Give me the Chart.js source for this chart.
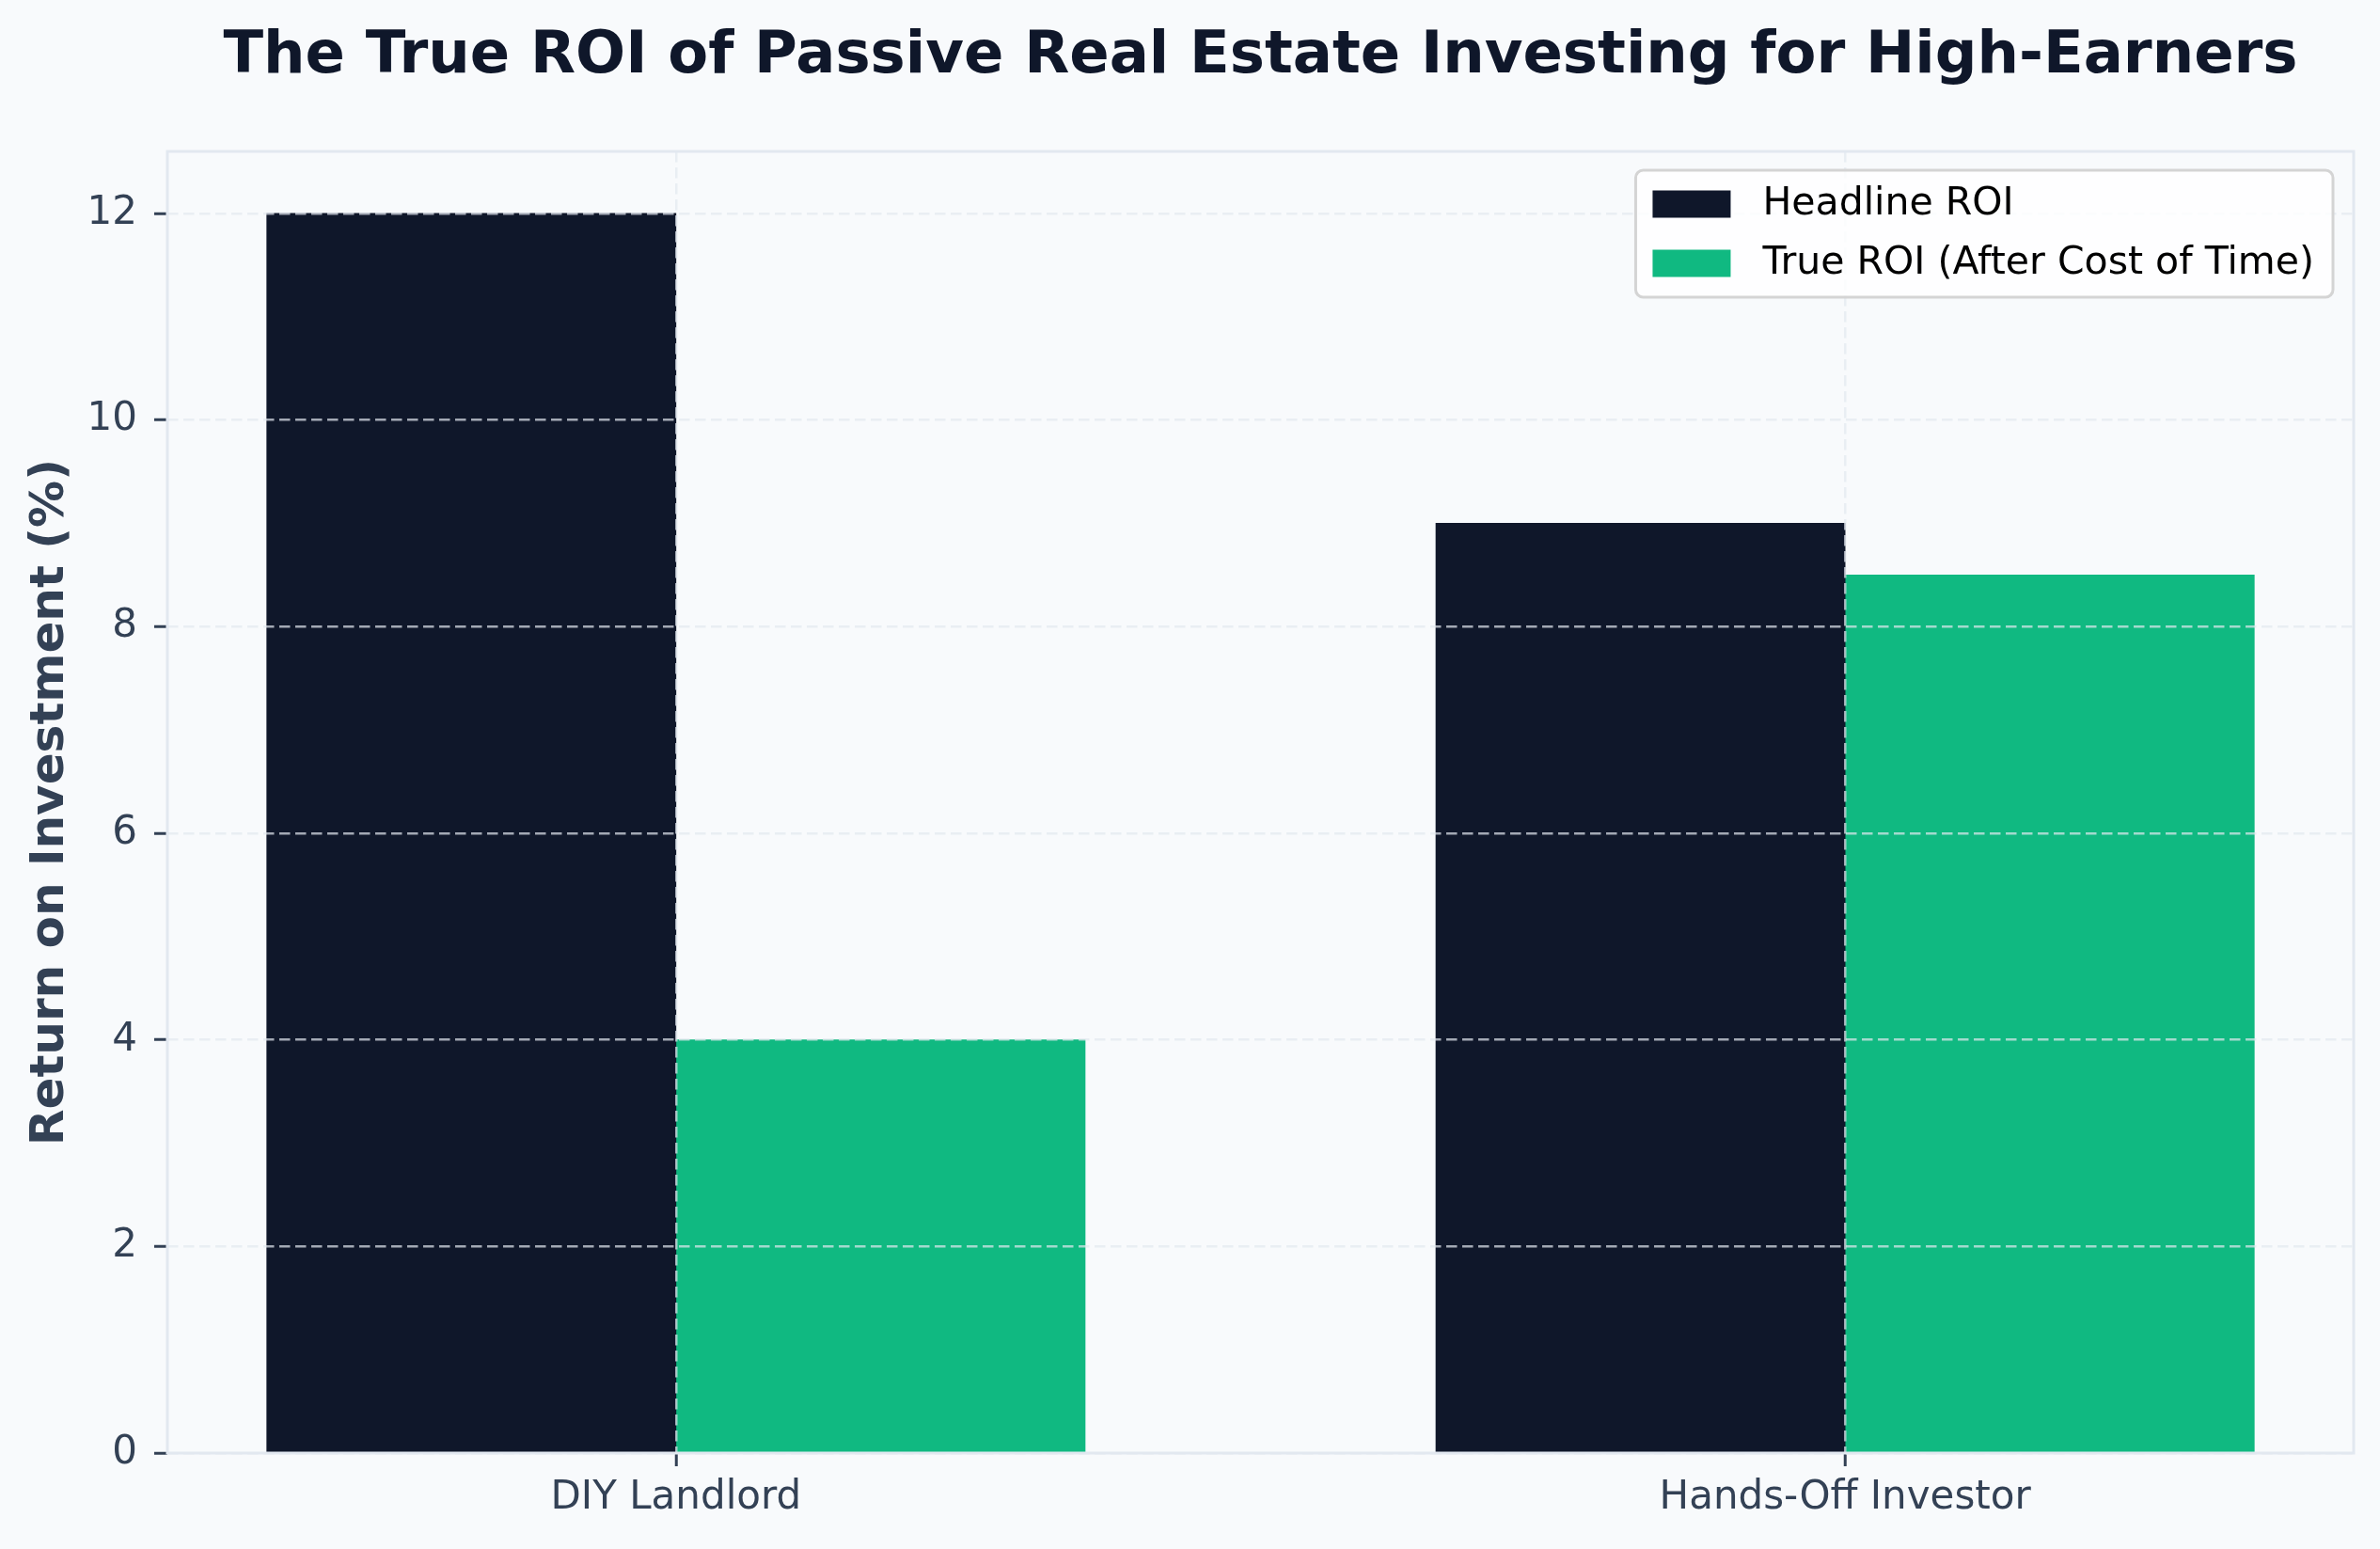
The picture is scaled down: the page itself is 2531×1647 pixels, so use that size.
<!DOCTYPE html>
<html><head><meta charset="utf-8">
<script src="https://cdn.jsdelivr.net/npm/chart.js@4.4.1/dist/chart.umd.min.js"></script>
<style>html,body{margin:0;padding:0;background:#f8fafc;} canvas{display:block;}</style>
</head><body>
<canvas id="c" width="2531" height="1647"></canvas>
<script>
// ---- data ----
const categories = ['DIY Landlord', 'Hands-Off Investor'];
const seriesNames = ['Headline ROI', 'True ROI (After Cost of Time)'];
const headlineROI = [12, 9];
const trueROI = [4, 8.5];
const yTickValues = [0, 2, 4, 6, 8, 10, 12];
const titleText = 'The True ROI of Passive Real Estate Investing for High-Earners';
const yAxisTitle = 'Return on Investment (%)';

// ---- styles ----
const DARK = '#0f172a', GREEN = '#10b981', BG = '#f8fafc', SPINE = '#e2e8f0', TEXT = '#334155';
const GRID = 'rgba(226,232,240,0.7)';
const BAR_W = 0.35;
const FONT = 'DejaVu Sans';

const toPoints = (vals, off) => vals.map((v, i) => ({x: i + off, y: v}));

const bgPlugin = {
  id: 'bg',
  beforeDraw(chart) {
    const ctx = chart.ctx;
    ctx.save(); ctx.fillStyle = BG; ctx.fillRect(0, 0, chart.width, chart.height); ctx.restore();
  }
};

const framePlugin = {
  id: 'frame',
  afterDraw(chart) {
    const {ctx, chartArea: a} = chart;
    ctx.save();
    ctx.strokeStyle = SPINE; ctx.lineWidth = 3;
    ctx.strokeRect(a.left, a.top, a.right - a.left, a.bottom - a.top);
    // legend
    const ds = chart.data.datasets;
    ctx.font = '41px "' + FONT + '"';
    let maxW = 0;
    ds.forEach(d => { maxW = Math.max(maxW, ctx.measureText(d.label).width); });
    const padL = 18, swW = 83, swH = 29, gap = 34, padR = 20, rowH = 63, padT = 34;
    const w = padL + swW + gap + maxW + padR;
    const h = padT * 2 + rowH * (ds.length - 1) + 4;
    const right = a.right - 22, top = a.top + 20, left = right - w;
    ctx.beginPath();
    ctx.roundRect(left, top, w, h, 8);
    ctx.fillStyle = 'rgba(255,255,255,0.8)'; ctx.fill();
    ctx.strokeStyle = '#d4d4d4'; ctx.lineWidth = 3; ctx.stroke();
    ds.forEach((d, i) => {
      const cy = top + padT + 2 + i * rowH;
      ctx.fillStyle = d.backgroundColor;
      ctx.fillRect(left + padL, cy - swH / 2, swW, swH);
      ctx.fillStyle = '#000000';
      ctx.textBaseline = 'middle'; ctx.textAlign = 'left';
      ctx.fillText(d.label, left + padL + swW + gap, cy);
    });
    ctx.restore();
  }
};

Chart.defaults.font.family = FONT;

new Chart(document.getElementById('c'), {
  type: 'bar',
  data: {
    datasets: [
      {label: seriesNames[0], data: toPoints(headlineROI, -BAR_W / 2), backgroundColor: DARK},
      {label: seriesNames[1], data: toPoints(trueROI, BAR_W / 2), backgroundColor: GREEN}
    ]
  },
  options: {
    responsive: false,
    devicePixelRatio: 1,
    animation: false,
    grouped: false,
    barPercentage: 1,
    categoryPercentage: 1,
    borderWidth: 0,
    layout: {padding: {left: 0, right: 28, top: 0, bottom: 0}},
    plugins: {
      legend: {display: false},
      tooltip: {enabled: false},
      title: {
        display: true, text: titleText, fullSize: false,
        color: DARK, font: {size: 62.5, weight: 'bold', family: FONT},
        padding: {top: 23, bottom: 63}
      }
    },
    scales: {
      x: {
        type: 'linear', min: -0.435, max: 1.435, offset: false,
        afterBuildTicks: s => { s.ticks = categories.map((c, i) => ({value: i})); },
        afterFit: s => { s.height = 102; },
        ticks: {callback: v => categories[v] ?? '', color: TEXT, font: {size: 42}, padding: 9, autoSkip: false, maxRotation: 0, z: 2},
        grid: {offset: false, z: 1, color: GRID, lineWidth: 2.5, tickColor: TEXT, tickWidth: 3, tickLength: 14, tickBorderDash: []},
        border: {display: false, dash: [11.5, 5.5]}
      },
      y: {
        min: 0, max: 12.6,
        afterBuildTicks: s => { s.ticks = yTickValues.map(v => ({value: v})); },
        afterFit: s => { s.width = 178; },
        ticks: {color: TEXT, font: {size: 42}, padding: 18, z: 2},
        grid: {z: 1, color: GRID, lineWidth: 2.5, tickColor: TEXT, tickWidth: 3, tickLength: 14, tickBorderDash: []},
        border: {display: false, dash: [11.5, 5.5]},
        title: {display: true, text: yAxisTitle, color: TEXT, font: {size: 50, weight: 'bold'}, padding: {top: 24, bottom: 0}}
      }
    }
  },
  plugins: [bgPlugin, framePlugin]
});
</script>
</body></html>
